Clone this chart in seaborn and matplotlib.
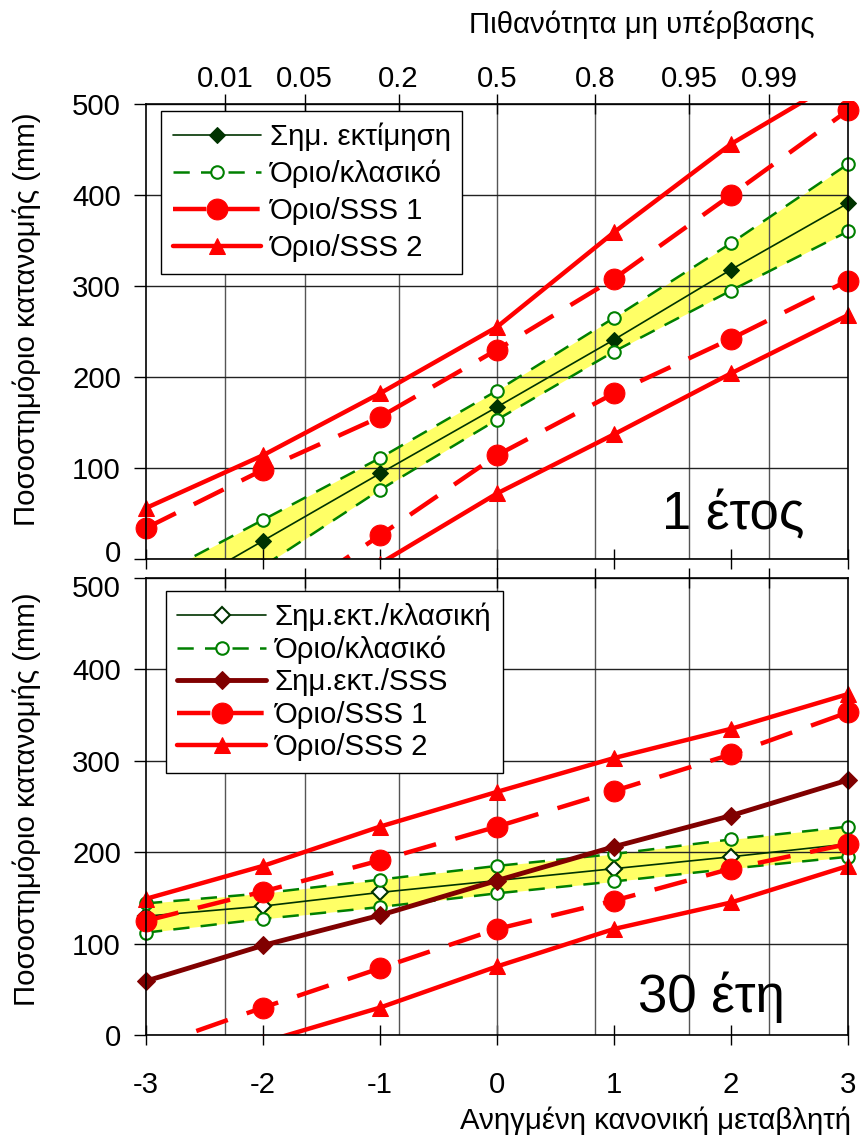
"""Quantile plots (1 year / 30 years) with classic and SSS confidence bounds."""
from statistics import NormalDist

import matplotlib
matplotlib.use("Agg")
import matplotlib.pyplot as plt
import seaborn as sns
from matplotlib.transforms import Bbox, ScaledTranslation, TransformedBbox

# reduced normal variate at which the estimates are given
z = [-3, -2, -1, 0, 1, 2, 3]

# non-exceedance probabilities shown on the top axis
prob_values = [0.01, 0.05, 0.2, 0.5, 0.8, 0.95, 0.99]
prob_labels = ["0.01", "0.05", "0.2", "0.5", "0.8", "0.95", "0.99"]

# 1 year (mm)
est_1 = [-54, 20, 94, 167, 241, 318, 391]
cls_hi_1 = [-25, 43, 111, 185, 265, 347, 434]
cls_lo_1 = [-85, -8, 76, 153, 228, 295, 360]
sss1_hi_1 = [34, 98, 156, 230, 308, 400, 493]
sss1_lo_1 = [-150, -61, 26, 114, 182, 242, 306]
sss2_hi_1 = [56, 114, 182, 255, 359, 456, 532]
sss2_lo_1 = [-160, -80, -5, 72, 137, 204, 268]

# 30 years (mm)
est_cls_30 = [130, 141, 156, 169, 182, 195, 209]
cls_hi_30 = [144, 155, 170, 185, 198, 214, 228]
cls_lo_30 = [112, 127, 140, 155, 168, 182, 195]
est_sss_30 = [59, 98, 131, 169, 206, 240, 279]
sss1_hi_30 = [125, 157, 191, 228, 267, 307, 353]
sss1_lo_30 = [-15, 30, 73, 116, 147, 182, 209]
sss2_hi_30 = [149, 185, 228, 266, 303, 335, 373]
sss2_lo_30 = [-40, -8, 30, 75, 116, 145, 185]

DARK_GREEN = "#003300"
GREEN = "#008000"
RED = "#ff0000"
DARK_RED = "#800000"
YELLOW = "#ffff66"

STYLE_EST = dict(color=DARK_GREEN, linewidth=1.2, marker="D", markersize=8,
                 markerfacecolor=DARK_GREEN, markeredgecolor=DARK_GREEN)
STYLE_EST_OPEN = dict(color=DARK_GREEN, linewidth=1.2, marker="D", markersize=8,
                      markerfacecolor="white", markeredgecolor=DARK_GREEN,
                      markeredgewidth=1.5)
STYLE_CLS = dict(color=GREEN, linewidth=1.8, linestyle=(0, (6.5, 4.5)), marker="o",
                 markersize=9, markerfacecolor="white", markeredgecolor=GREEN,
                 markeredgewidth=1.5)
STYLE_EST_SSS = dict(color=DARK_RED, linewidth=3.5, marker="D", markersize=9,
                     markerfacecolor=DARK_RED, markeredgecolor=DARK_RED)
STYLE_SSS1 = dict(color=RED, linewidth=3.2, linestyle=(0, (7.5, 4.5)), marker="o",
                  markersize=15, markerfacecolor=RED, markeredgecolor=RED)
STYLE_SSS2 = dict(color=RED, linewidth=3.2, marker="^", markersize=12,
                  markerfacecolor=RED, markeredgecolor=RED)

FS = 21.2

sns.set_style("ticks")
plt.rcParams["font.family"] = ["Liberation Sans", "DejaVu Sans"]
plt.rcParams["axes.unicode_minus"] = False
for key in ["text.color", "axes.labelcolor", "xtick.color", "ytick.color",
            "axes.edgecolor"]:
    plt.rcParams[key] = "black"


def draw(ax, y, label, style):
    sns.lineplot(x=z, y=y, ax=ax, label=label, errorbar=None, **style)


def setup_axes(ax, top_labels, bottom_labels):
    prob_z = [NormalDist().inv_cdf(p) for p in prob_values]
    ax.set_xlim(-3, 3)
    ax.set_ylim(0, 500)
    ax.set_yticks(range(0, 501, 100))
    ax.xaxis.remove_overlapping_locs = False
    ax.set_xticks(z)
    ax.set_xticks(prob_z, labels=prob_labels if top_labels else [], minor=True)
    ax.set_axisbelow(True)
    ax.grid(False)
    ax.grid(True, which="minor", axis="x", color="#555555", linewidth=1.0)
    ax.grid(True, which="major", axis="y", color="#222222", linewidth=1.0)
    ax.tick_params(axis="x", which="major", direction="inout", length=14, width=1,
                   top=False, bottom=True, labelbottom=bottom_labels,
                   labelsize=FS, pad=19, colors="black")
    ax.tick_params(axis="x", which="minor", direction="inout", length=14, width=1,
                   top=True, bottom=False, labeltop=top_labels, labelbottom=False,
                   labelsize=FS, pad=1, colors="black")
    ax.tick_params(axis="y", direction="out", length=9, width=1, labelsize=FS, pad=9,
                   colors="black")
    for side in ["left", "right", "top", "bottom"]:
        ax.spines[side].set_visible(True)
        ax.spines[side].set_color("black")
        ax.spines[side].set_linewidth(1.2)
    ax.set_xlabel("")
    ax.set_ylabel("Ποσοστημόριο κατανομής (mm)", fontsize=FS, color="black")


def finish_lines(ax):
    # markers at x = -3 and x = 3 are shown whole, lines still stop at y = 0
    box = TransformedBbox(Bbox([[-0.03, 0.0], [1.03, 1.006]]), ax.transAxes)
    for line in ax.lines:
        line.set_clip_path(None)
        line.set_clip_box(box)


def nudge_label(ax, index, dy_px):
    label = ax.yaxis.get_major_ticks()[index].label1
    label.set_transform(label.get_transform()
                        + ScaledTranslation(0, dy_px / 100, fig.dpi_scale_trans))


fig = plt.figure(figsize=(8.61, 11.42), dpi=100)
W, H = 861, 1142
ax1 = fig.add_axes([146 / W, 1 - 559 / H, 702 / W, 455 / H])
ax2 = fig.add_axes([146 / W, 1 - 1035 / H, 702 / W, 457 / H])

# --- 1 year ---
ax1.fill_between(z, cls_lo_1, cls_hi_1, color=YELLOW, linewidth=0, zorder=0.4)
draw(ax1, est_1, "Σημ. εκτίμηση", STYLE_EST)
draw(ax1, cls_hi_1, "Όριο/κλασικό", STYLE_CLS)
draw(ax1, cls_lo_1, None, STYLE_CLS)
draw(ax1, sss1_hi_1, "Όριο/SSS 1", STYLE_SSS1)
draw(ax1, sss1_lo_1, None, STYLE_SSS1)
draw(ax1, sss2_hi_1, "Όριο/SSS 2", STYLE_SSS2)
draw(ax1, sss2_lo_1, None, STYLE_SSS2)
setup_axes(ax1, top_labels=True, bottom_labels=False)
ax1.yaxis.set_label_coords(-0.15, 0.527)
ax1.text(0.836, 0.064, "1 έτος", transform=ax1.transAxes, fontsize=38,
         color="black", ha="center", va="baseline")

# --- 30 years ---
ax2.fill_between(z, cls_lo_30, cls_hi_30, color=YELLOW, linewidth=0, zorder=0.4)
draw(ax2, est_cls_30, "Σημ.εκτ./κλασική", STYLE_EST_OPEN)
draw(ax2, cls_hi_30, "Όριο/κλασικό", STYLE_CLS)
draw(ax2, cls_lo_30, None, STYLE_CLS)
draw(ax2, est_sss_30, "Σημ.εκτ./SSS", STYLE_EST_SSS)
draw(ax2, sss1_hi_30, "Όριο/SSS 1", STYLE_SSS1)
draw(ax2, sss1_lo_30, None, STYLE_SSS1)
draw(ax2, sss2_hi_30, "Όριο/SSS 2", STYLE_SSS2)
draw(ax2, sss2_lo_30, None, STYLE_SSS2)
setup_axes(ax2, top_labels=False, bottom_labels=True)
ax2.yaxis.set_label_coords(-0.15, 0.515)
ax2.text(0.806, 0.05, "30 έτη", transform=ax2.transAxes, fontsize=38,
         color="black", ha="center", va="baseline")

legend_kw = dict(loc="upper left", borderaxespad=0, frameon=True, fancybox=False,
                 edgecolor="black", framealpha=1, fontsize=FS, handlelength=3.0,
                 handletextpad=0.3, borderpad=0.4, numpoints=1)
leg1 = ax1.legend(bbox_to_anchor=(0.021, 0.985), labelspacing=0.3, **legend_kw)
leg2 = ax2.legend(bbox_to_anchor=(0.028, 0.972), labelspacing=0.15, **legend_kw)
for leg in (leg1, leg2):
    leg.get_frame().set_linewidth(1.0)
    leg.set_zorder(10)
    for text in leg.get_texts():
        text.set_color("black")

finish_lines(ax1)
finish_lines(ax2)

# "0" of the upper panel and "500" of the lower one sit almost on each other
nudge_label(ax1, 0, 8)
nudge_label(ax2, -1, -8)

fig.text(642 / W, 1 - 25 / H, "Πιθανότητα μη υπέρβασης", fontsize=FS,
         ha="center", va="center", color="black")
fig.text(851 / W, 1 - 1121 / H, "Ανηγμένη κανονική μεταβλητή", fontsize=FS,
         ha="right", va="center", color="black")

fig.savefig("out.png", dpi=100)
